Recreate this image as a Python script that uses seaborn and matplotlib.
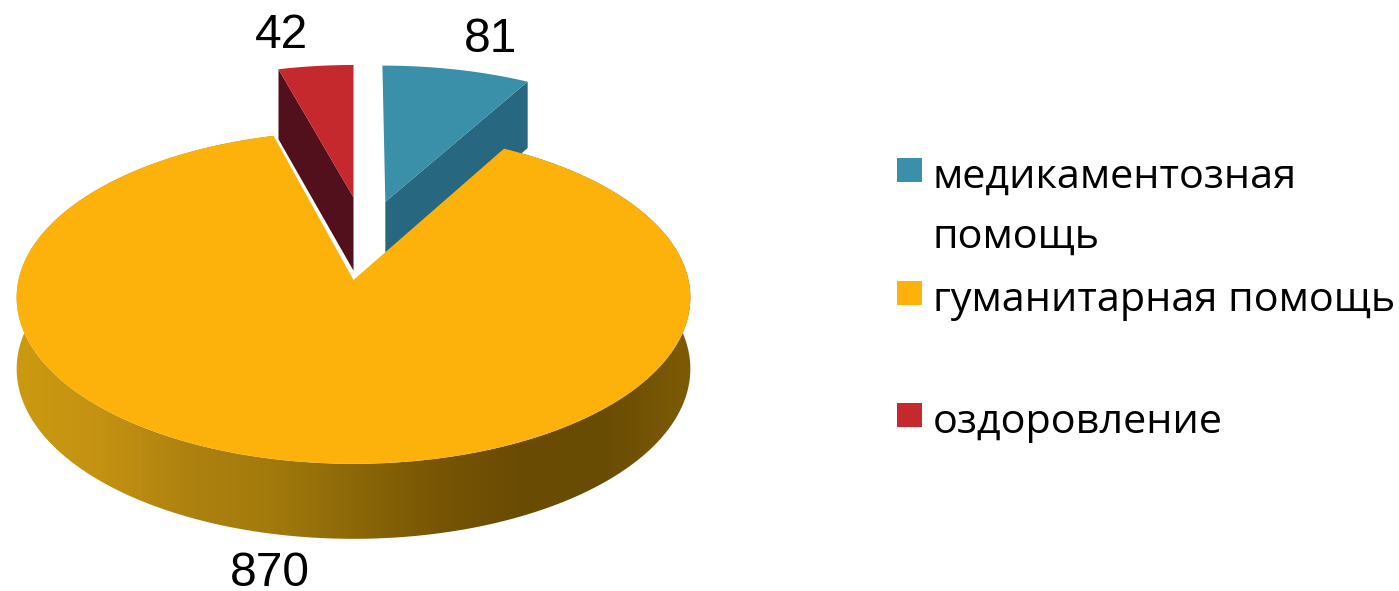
import matplotlib

matplotlib.use("Agg")
import matplotlib.pyplot as plt
import numpy as np
import seaborn as sns
from matplotlib.patches import Polygon, Rectangle

categories = ["медикаментозная\nпомощь", "гуманитарная помощь", "оздоровление"]
values = [81, 870, 42]
top_colors = ["#3a8fa9", "#fdb20b", "#c5292d"]
side_colors = ["#27677f", "#fdb20b", "#52101c"]
wall_colors = ["#cb9a10", "#c49212", "#ae8210", "#a37a0c", "#8c6808",
               "#775504", "#694b03", "#6a4d04", "#7d5b06"]

# projection of the tilted disc, in pixels
CX, CY = 353.5, 280
RX, RY = 335, 164.5
TILT = 0.105
DEPTH = 71

# offset from the disc centre (sideways, backwards), radius and depth of each slice
offsets = [(0.10, 0.50), (0, 0), (0, 0.53)]
radii = [1.01, 1.0, 0.985]
depths = [1.0, 1.0, 1.06]


def project(u, v, drop=0.0):
    w = 1 + TILT * v
    return CX + RX * u / w, CY - RY * v / w + drop * DEPTH / np.sqrt(w)


def disc_point(theta, slice_no, drop=0.0):
    du, dv = offsets[slice_no]
    r = radii[slice_no]
    return project(du + r * np.sin(theta), dv + r * np.cos(theta), drop)


def arc(start, stop, slice_no, drop=0.0, n=200):
    thetas = np.linspace(start, stop, n)
    return [disc_point(t, slice_no, drop) for t in thetas]


def draw_cut_face(ax, theta, slice_no):
    du, dv = offsets[slice_no]
    drop = depths[slice_no]
    face = [project(du, dv), disc_point(theta, slice_no),
            disc_point(theta, slice_no, drop), project(du, dv, drop)]
    ax.add_patch(Polygon(face, color=side_colors[slice_no], lw=0))


def draw_top_face(ax, start, stop, slice_no):
    du, dv = offsets[slice_no]
    face = [project(du, dv)] + arc(start, stop, slice_no)
    ax.add_patch(Polygon(face, color=top_colors[slice_no], lw=0))


def main():
    sns.set_theme(style="white")
    plt.rcParams["font.family"] = ["Liberation Sans", "DejaVu Sans"]

    fig, ax = plt.subplots(figsize=(13.99, 5.91), dpi=100)
    ax.set_position([0, 0, 1, 1])

    edges = np.cumsum([0] + values) / sum(values) * 2 * np.pi
    blue = (edges[0], edges[1])
    yellow = (edges[1], edges[2])
    red = (edges[2], edges[3])

    # slices pulled out to the back, yellow goes over them
    draw_cut_face(ax, blue[1], 0)
    draw_top_face(ax, blue[0], blue[1], 0)
    draw_cut_face(ax, red[0], 2)
    draw_top_face(ax, red[0], red[1], 2)

    # outer wall of the yellow slice with its shading
    wall = arc(yellow[0], yellow[1], 1) + arc(yellow[1], yellow[0], 1, drop=1)
    wall_patch = Polygon(wall, color="none", lw=0)
    ax.add_patch(wall_patch)
    cmap = sns.blend_palette(wall_colors, as_cmap=True)
    img = ax.imshow(np.linspace(0, 1, 400)[None, :], cmap=cmap, aspect="auto",
                    extent=(CX - RX - 3, CX + RX + 3, 560, 130), zorder=1)
    img.set_clip_path(wall_patch)
    top = Polygon([project(0, 0)] + arc(yellow[0], yellow[1], 1),
                  color=top_colors[1], lw=0, zorder=2)
    ax.add_patch(top)

    # data labels
    label_pos = [(491, 40), (270, 574), (281, 35)]
    for value, (x, y) in zip(values, label_pos):
        ax.text(x, y, str(value), fontsize=34.5, color="black",
                ha="center", va="center")

    # legend
    legend_y = [170, 293, 415]
    for name, color, y in zip(categories, top_colors, legend_y):
        ax.add_patch(Rectangle((897, y - 12), 25, 24, color=color, lw=0))
        for i, line in enumerate(name.split("\n")):
            ax.text(933, y + 18 + 60 * i, line, fontsize=29.8, color="black",
                    family=["Open Sans", "DejaVu Sans"], ha="left", va="baseline")

    ax.set_xlim(0, 1399)
    ax.set_ylim(591, 0)
    ax.axis("off")
    fig.savefig("out.png", dpi=100, facecolor="white")
    plt.close(fig)


if __name__ == "__main__":
    main()
